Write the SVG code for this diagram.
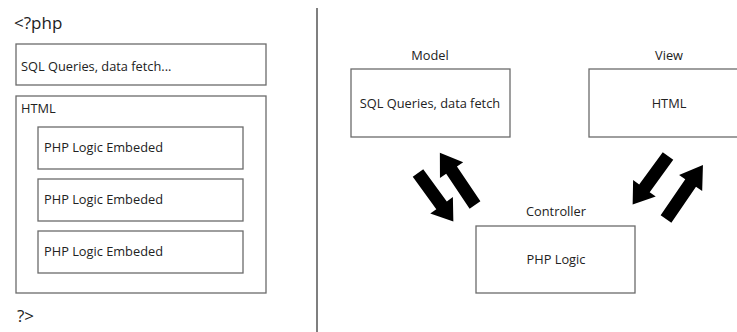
<svg xmlns="http://www.w3.org/2000/svg" width="737" height="332" viewBox="0 0 737 332">
<style>
.box{fill:#fff;stroke:#6b6b6b;stroke-width:1.3}
.t{font-family:"Open Sans","Liberation Sans",sans-serif;font-size:12.8px;fill:#222}
.lg{font-family:"Open Sans","Liberation Sans",sans-serif;font-size:17px;fill:#222}
.c{text-anchor:middle}
.arr{fill:#000}
</style>
<defs>
<path id="blk" d="M0,-6.5 L40,-6.5 L40,-14 L60,0 L40,14 L40,6.5 L0,6.5 Z"/>
</defs>
<line x1="317" y1="8" x2="317" y2="332" stroke="#555" stroke-width="1.5"/>
<text class="lg" x="14" y="29">&lt;?php</text>
<g id="sql-left"><rect class="box" x="16" y="44" width="250" height="41"/><text class="t" x="21" y="71">SQL Queries, data fetch...</text></g>
<g id="html-left"><rect class="box" x="16" y="96" width="250" height="197"/><text class="t" x="21" y="113">HTML</text></g>
<g id="php1"><rect class="box" x="38" y="127" width="205" height="42"/><text class="t" x="44" y="152">PHP Logic Embeded</text></g>
<g id="php2"><rect class="box" x="38" y="179" width="205" height="42"/><text class="t" x="44" y="204">PHP Logic Embeded</text></g>
<g id="php3"><rect class="box" x="38" y="231" width="205" height="42"/><text class="t" x="44" y="256">PHP Logic Embeded</text></g>
<text class="lg" x="17" y="322">?&gt;</text>
<g id="model"><text class="t c" x="430" y="60">Model</text><rect class="box" x="351" y="69" width="159" height="68"/><text class="t c" x="430" y="108">SQL Queries, data fetch</text></g>
<g id="view"><text class="t c" x="669" y="60">View</text><rect class="box" x="589" y="69" width="160" height="68"/><text class="t c" x="669" y="108">HTML</text></g>
<g id="controller"><text class="t c" x="556" y="216">Controller</text><rect class="box" x="476" y="226" width="159" height="67"/><text class="t c" x="556" y="264">PHP Logic</text></g>
<g id="connectors" class="arr">
<use href="#blk" transform="translate(418,173) rotate(53.9)"/>
<use href="#blk" transform="translate(475,205) rotate(-123.9) scale(1.05,1)"/>
<use href="#blk" transform="translate(668,156) rotate(126.1)"/>
<use href="#blk" transform="translate(666,219) rotate(-55.6) scale(1.09,1)"/>
</g>
</svg>
